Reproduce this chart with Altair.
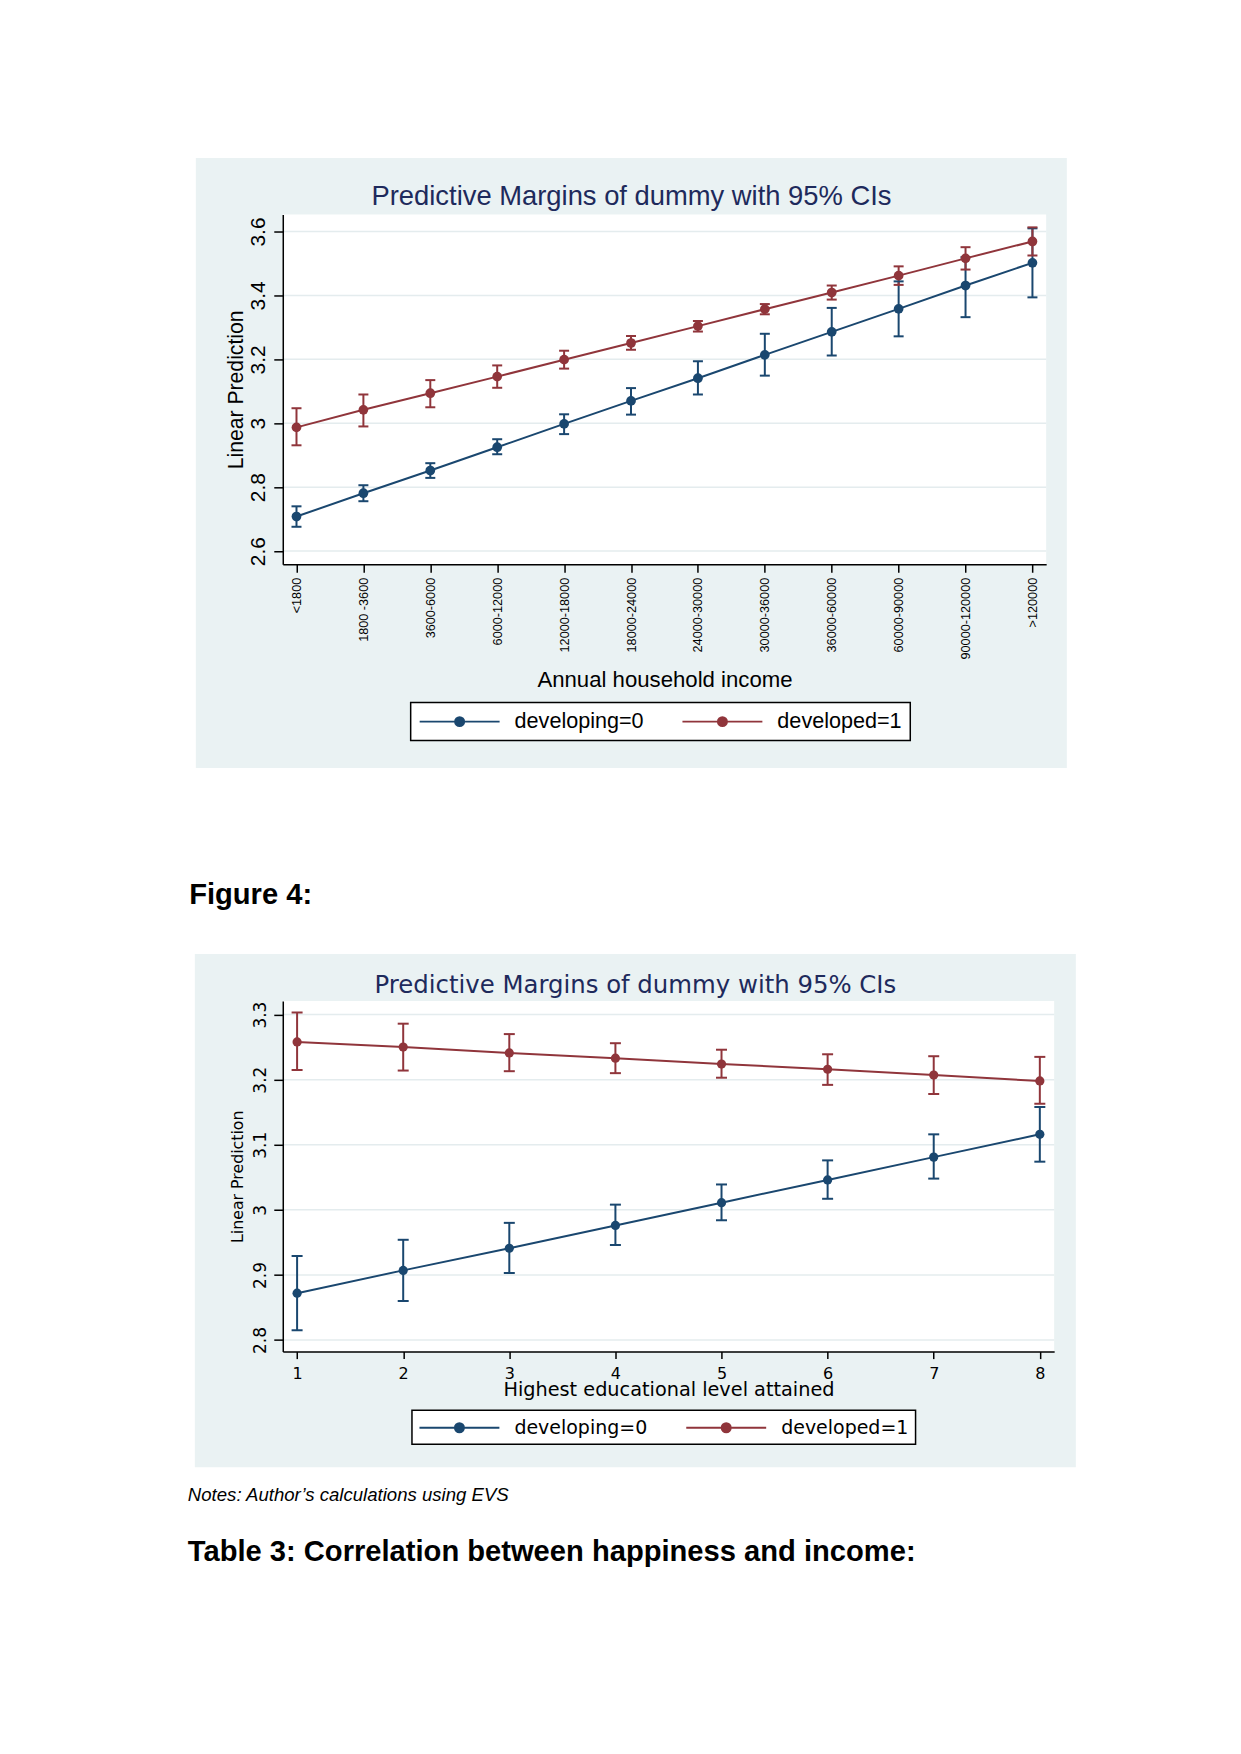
import altair as alt
import pandas as pd

# ---------------- data ----------------
series_names = ["developing=0", "developed=1"]
series_colors = ["#1A476F", "#90353B"]

income_labels = ["<1800", "1800 -3600", "3600-6000", "6000-12000", "12000-18000",
                 "18000-24000", "24000-30000", "30000-36000", "36000-60000",
                 "60000-90000", "90000-120000", ">120000"]
inc_dev0_est = [2.708, 2.781, 2.852, 2.925, 2.998, 3.070, 3.141, 3.214, 3.286, 3.358, 3.431, 3.502]
inc_dev0_lo = [2.676, 2.756, 2.829, 2.903, 2.966, 3.027, 3.090, 3.149, 3.212, 3.272, 3.332, 3.394]
inc_dev0_hi = [2.740, 2.806, 2.875, 2.950, 3.028, 3.110, 3.194, 3.280, 3.361, 3.444, 3.520, 3.610]
inc_dev1_est = [2.987, 3.042, 3.094, 3.146, 3.199, 3.251, 3.304, 3.357, 3.409, 3.462, 3.516, 3.569]
inc_dev1_lo = [2.931, 2.990, 3.050, 3.111, 3.171, 3.230, 3.287, 3.341, 3.387, 3.433, 3.481, 3.525]
inc_dev1_hi = [3.047, 3.090, 3.135, 3.181, 3.227, 3.273, 3.320, 3.373, 3.431, 3.491, 3.551, 3.613]
inc_y_ticks = [2.6, 2.8, 3.0, 3.2, 3.4, 3.6]

edu_levels = [1, 2, 3, 4, 5, 6, 7, 8]
edu_dev0_est = [2.872, 2.907, 2.941, 2.976, 3.011, 3.046, 3.081, 3.116]
edu_dev0_lo = [2.815, 2.860, 2.903, 2.946, 2.984, 3.017, 3.048, 3.074]
edu_dev0_hi = [2.929, 2.954, 2.980, 3.008, 3.039, 3.076, 3.116, 3.158]
edu_dev1_est = [3.258, 3.250, 3.241, 3.233, 3.224, 3.216, 3.207, 3.198]
edu_dev1_lo = [3.215, 3.214, 3.213, 3.210, 3.203, 3.192, 3.178, 3.163]
edu_dev1_hi = [3.303, 3.286, 3.270, 3.256, 3.246, 3.239, 3.236, 3.235]
edu_y_ticks = [2.8, 2.9, 3.0, 3.1, 3.2, 3.3]

title_text = "Predictive Margins of dummy with 95% CIs"
y_title = "Linear Prediction"
x1_title = "Annual household income"
x2_title = "Highest educational level attained"
fig_caption = "Figure 4:"
notes_text = "Notes: Author\u2019s calculations using EVS"
table_caption = "Table 3: Correlation between happiness and income:"

PANEL = "#EAF2F3"
GRID = "#E4ECEE"
TITLE_COLOR = "#1E2A5C"
PAGE_W = 1241
LEG_PATH = "M-4,0L4,0M-0.45,0A0.45,0.45,0,1,0,0.45,0A0.45,0.45,0,1,0,-0.45,0Z"


def build_df(xs, e0, l0, h0, e1, l1, h1):
    rows = []
    for name, est, lo, hi in ((series_names[0], e0, l0, h0), (series_names[1], e1, l1, h1)):
        for i, x in enumerate(xs):
            rows.append({"idx": i, "x": x, "series": name, "est": est[i], "lo": lo[i], "hi": hi[i]})
    return pd.DataFrame(rows)


def make_panel(df, xdomain, xpad, yticks, ydomain, W, H, L, T, frame_top, frame_bottom,
               panel_box, font, x_axis, y_axis, legend, title_pos, title_size,
               point_size, cap_size, extra_texts):
    one = alt.Data(values=[{}])
    xscale = alt.Scale(type="point", domain=xdomain, padding=xpad)
    yscale = alt.Scale(domain=ydomain, zero=False, nice=False)
    cscale = alt.Scale(domain=series_names, range=series_colors)
    X = alt.X("x:O", scale=xscale, axis=x_axis)
    C = alt.Color("series:N", scale=cscale, legend=legend)

    frame = alt.Chart(one).mark_rect(fill="white", strokeWidth=0).encode(
        x=alt.value(-L), x2=alt.value(PAGE_W - L),
        y=alt.value(frame_top - T), y2=alt.value(frame_bottom - T))
    px0, py0, px1, py1 = panel_box
    panel = alt.Chart(one).mark_rect(fill=PANEL, strokeWidth=0).encode(
        x=alt.value(px0 - L), x2=alt.value(px1 - L),
        y=alt.value(py0 - T), y2=alt.value(py1 - T))
    plotbg = alt.Chart(one).mark_rect(fill="white", strokeWidth=0).encode(
        x=alt.value(0), x2=alt.value(W), y=alt.value(0), y2=alt.value(H))
    grid = alt.Chart(pd.DataFrame({"est": yticks})).mark_rule(
        color=GRID, strokeWidth=1.5).encode(
        y=alt.Y("est:Q", scale=yscale, axis=y_axis))

    base = alt.Chart(df)
    bars = base.mark_rule(strokeWidth=2).encode(
        x=X, y=alt.Y("lo:Q", scale=yscale, axis=y_axis), y2="hi:Q", color=C)
    cap_lo = base.mark_tick(size=cap_size, thickness=2, opacity=1).encode(
        x=X, y=alt.Y("lo:Q", scale=yscale, axis=y_axis), color=C)
    cap_hi = base.mark_tick(size=cap_size, thickness=2, opacity=1).encode(
        x=X, y=alt.Y("hi:Q", scale=yscale, axis=y_axis), color=C)
    line = base.mark_line(strokeWidth=2).encode(
        x=X, y=alt.Y("est:Q", scale=yscale, axis=y_axis), color=C, order="idx:Q")
    pts = base.mark_circle(size=point_size, opacity=1).encode(
        x=X, y=alt.Y("est:Q", scale=yscale, axis=y_axis), color=C)

    tx, ty = title_pos
    title = alt.Chart(one).mark_text(
        text=title_text, font=font, fontSize=title_size, color=TITLE_COLOR,
        align="center", baseline="alphabetic").encode(
        x=alt.value(tx - L), y=alt.value(ty - T))

    layers = [frame, panel, plotbg, grid, bars, cap_lo, cap_hi, line, pts, title]
    for txt, x0, y0, weight, style in extra_texts:
        layers.append(alt.Chart(one).mark_text(
            text=txt, font="Liberation Sans", fontSize=29.17 if weight == "bold" else 18.6,
            fontWeight=weight, fontStyle=style, color="black",
            align="left", baseline="alphabetic").encode(
            x=alt.value(x0 - L), y=alt.value(y0 - T)))
    return alt.layer(*layers).properties(width=W, height=H)


# ---------------- chart 1 ----------------
W1, H1, L1, T1 = 764, 350, 282, 214
df1 = build_df(income_labels, inc_dev0_est, inc_dev0_lo, inc_dev0_hi,
               inc_dev1_est, inc_dev1_lo, inc_dev1_hi)
f1 = "Liberation Sans"
x1_axis = alt.Axis(
    title=x1_title, labelAngle=270, labelAlign="right", labelBaseline="middle",
    labelFont=f1, labelFontSize=12.7, labelColor="black", labelPadding=5,
    labelOverlap=False, tickSize=8, tickColor="black", tickWidth=1.5,
    domainColor="black", domainWidth=1.5, grid=False,
    titleFont=f1, titleFontSize=22.2, titleFontWeight="normal", titleColor="black",
    titleX=W1 / 2, titleY=122.5, titleAlign="center", titleBaseline="alphabetic",
    titleAngle=0, zindex=1)
y1_axis = alt.Axis(
    title=y_title, values=inc_y_ticks, format="~g", labelAngle=270,
    labelAlign="center", labelBaseline="alphabetic", labelFont=f1, labelFontSize=21,
    labelColor="black", labelPadding=9, tickSize=9, tickColor="black", tickWidth=1.5,
    domainColor="black", domainWidth=1.5, grid=False,
    titleFont=f1, titleFontSize=21.2, titleFontWeight="normal", titleColor="black",
    titleX=-40, titleY=H1 / 2, titleAngle=270, titleAlign="center",
    titleBaseline="alphabetic", zindex=1)
leg1 = alt.Legend(
    title=None, orient="none", legendX=128, legendY=488.3, direction="horizontal",
    symbolType=LEG_PATH, symbolSize=400, symbolStrokeWidth=2, symbolOffset=30,
    labelFont=f1, labelFontSize=21.6, labelColor="black", labelOffset=44,
    columnPadding=34, padding=8, strokeColor="black", fillColor="white",
    labelLimit=400, zindex=1)
chart1 = make_panel(
    df1, income_labels, 0.205, inc_y_ticks, [2.5587, 3.6532], W1, H1, L1, T1, 0, 930,
    (195, 157.3, 1066.7, 768), f1, x1_axis, y1_axis, leg1, (631, 204.3), 27.4,
    95, 10, [(fig_caption, 188.3, 904.3, "bold", "normal")])

# ---------------- chart 2 ----------------
W2, H2, L2, T2 = 772, 351, 283, 1001
df2 = build_df(edu_levels, edu_dev0_est, edu_dev0_lo, edu_dev0_hi,
               edu_dev1_est, edu_dev1_lo, edu_dev1_hi)
f2 = "DejaVu Sans"
x2_axis = alt.Axis(
    title=x2_title, labelAngle=0, labelAlign="center", labelBaseline="alphabetic",
    labelFont=f2, labelFontSize=16, labelColor="black", labelPadding=19.7,
    tickSize=7, tickColor="black", tickWidth=1.5,
    domainColor="black", domainWidth=1.5, grid=False,
    titleFont=f2, titleFontSize=19.3, titleFontWeight="normal", titleColor="black",
    titleX=W2 / 2, titleY=43.7, titleAlign="center", titleBaseline="alphabetic",
    titleAngle=0, zindex=1)
y2_axis = alt.Axis(
    title=y_title, values=edu_y_ticks, format="~g", labelAngle=270,
    labelAlign="center", labelBaseline="alphabetic", labelFont=f2, labelFontSize=17,
    labelColor="black", labelPadding=8.5, tickSize=9, tickColor="black", tickWidth=1.5,
    domainColor="black", domainWidth=1.5, grid=False,
    titleFont=f2, titleFontSize=15.8, titleFontWeight="normal", titleColor="black",
    titleX=-40.5, titleY=H2 / 2, titleAngle=270, titleAlign="center",
    titleBaseline="alphabetic", zindex=1)
leg2 = alt.Legend(
    title=None, orient="none", legendX=129.3, legendY=409.7, direction="horizontal",
    symbolType=LEG_PATH, symbolSize=400, symbolStrokeWidth=2, symbolOffset=30,
    labelFont=f2, labelFontSize=19, labelColor="black", labelOffset=44,
    columnPadding=34, padding=6.5, strokeColor="black", fillColor="white",
    labelLimit=400, zindex=1)
chart2 = make_panel(
    df2, edu_levels, 0.135, edu_y_ticks, [2.7822, 3.321], W2, H2, L2, T2, 930, 1754,
    (195, 954, 1076.7, 1467.7), f2, x2_axis, y2_axis, leg2, (635.9, 993.5), 24.4,
    85, 11, [(notes_text, 188, 1501.7, "normal", "italic"),
             (table_caption, 188, 1561.5, "bold", "normal")])

chart = alt.vconcat(chart1, chart2, spacing=0).resolve_scale(
    x="independent", y="independent", color="independent"
).resolve_legend(color="independent").properties(
    padding=0, background="white"
).configure_view(stroke=None).configure_legend(strokeWidth=1.5)

chart.save("out.html", embed_options={"renderer": "svg", "actions": False})
